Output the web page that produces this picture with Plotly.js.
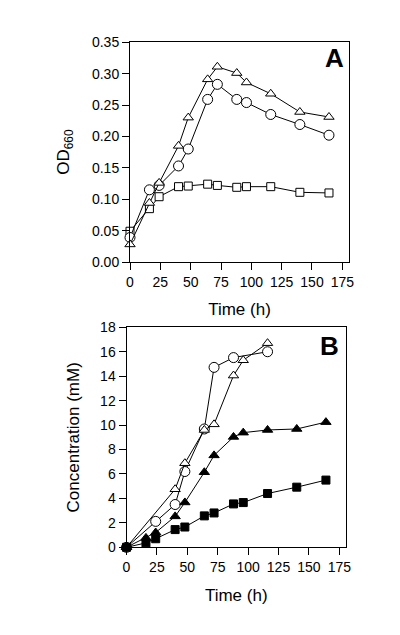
<!DOCTYPE html>
<html>
<head>
<meta charset="utf-8">
<script src="https://cdn.plot.ly/plotly-3.0.1.min.js"></script>
<style>
  html, body { margin: 0; padding: 0; background: #fff; }
  #chart { width: 400px; height: 635px; }
</style>
</head>
<body>
<div id="chart"></div>
<script>
// ---- Panel A: OD660 vs time ----
const timeA = [0, 16, 24, 40, 48, 64, 72, 88, 96, 116, 140, 164];
const odCircle   = [0.039, 0.115, 0.122, 0.153, 0.180, 0.259, 0.283, 0.259, 0.254, 0.235, 0.219, 0.202];
const odTriangle = [0.028, 0.094, 0.126, 0.185, 0.230, 0.291, 0.311, 0.301, 0.286, 0.268, 0.239, 0.231];
const odSquare   = [0.049, 0.085, 0.104, 0.120, 0.121, 0.124, 0.122, 0.119, 0.120, 0.120, 0.111, 0.110];

// ---- Panel B: concentration vs time ----
const timeCircleB = [0, 24, 40, 48, 64, 72, 88, 116];
const concCircle  = [0, 2.12, 3.5, 6.2, 9.68, 14.72, 15.52, 16.0];
const timeOpenTriB = [0, 40, 48, 64, 72, 88, 96, 116];
const concOpenTri  = [0, 4.75, 6.88, 9.6, 10.06, 14.05, 15.3, 16.7];
const timeB = [0, 16, 24, 40, 48, 64, 72, 88, 96, 116, 140, 164];
const concFilledTri = [0, 0.77, 1.21, 2.53, 3.67, 6.14, 7.52, 9.03, 9.38, 9.6, 9.68, 10.24];
const concFilledSq  = [0, 0.36, 0.7, 1.45, 1.66, 2.57, 2.81, 3.55, 3.66, 4.4, 4.92, 5.5];

const xTicks = [0, 25, 50, 75, 100, 125, 150, 175];

const FONT = 'Liberation Sans, Arial, Helvetica, sans-serif';
const line = {color: '#000', width: 1};

function tr(x, y, symbol, fill, size, xa, ya) {
  return {
    x: x, y: y, xaxis: xa, yaxis: ya, type: 'scatter', mode: 'lines+markers',
    line: line, cliponaxis: false, showlegend: false,
    marker: {symbol: symbol, size: size, color: fill, line: {color: '#000', width: 1}}
  };
}

const data = [
  tr(timeA, odSquare, 'square', '#fff', 8, 'x', 'y'),
  tr(timeA, odCircle, 'circle', '#fff', 10, 'x', 'y'),
  tr(timeA, odTriangle, 'triangle-up', '#fff', 9, 'x', 'y'),
  tr(timeCircleB, concCircle, 'circle', '#fff', 10, 'x2', 'y2'),
  tr(timeOpenTriB, concOpenTri, 'triangle-up', '#fff', 9, 'x2', 'y2'),
  tr(timeB, concFilledSq, 'square', '#000', 8, 'x2', 'y2'),
  tr(timeB, concFilledTri, 'triangle-up', '#000', 9, 'x2', 'y2')
];

const axCommon = {
  showline: true, linecolor: '#000', linewidth: 1, mirror: true,
  ticks: 'outside', ticklen: 7, tickwidth: 1, tickcolor: '#000',
  showgrid: false, zeroline: false, fixedrange: true,
  tickfont: {family: FONT, size: 14, color: '#000'}
};
const titleFont = {family: FONT, size: 17, color: '#000'};

const layout = {
  width: 400, height: 635,
  margin: {l: 0, r: 0, t: 0, b: 0},
  paper_bgcolor: '#fff', plot_bgcolor: '#fff',
  font: {family: FONT, color: '#000'},
  xaxis: Object.assign({}, axCommon, {
    domain: [0.325, 0.8725], range: [0, 180.5], anchor: 'y',
    tickvals: xTicks,
    title: {text: 'Time (h)', font: titleFont, standoff: 14}
  }),
  yaxis: Object.assign({}, axCommon, {
    domain: [0.5874, 0.9334], range: [0, 0.35], anchor: 'x',
    dtick: 0.05, tickformat: '.2f',
    title: {text: 'OD<sub>660</sub>', font: titleFont, standoff: 17}
  }),
  xaxis2: Object.assign({}, axCommon, {
    domain: [0.31625, 0.865], range: [0, 180.5], anchor: 'y2',
    tickvals: xTicks,
    title: {text: 'Time (h)', font: titleFont, standoff: 14}
  }),
  yaxis2: Object.assign({}, axCommon, {
    domain: [0.1381, 0.4846], range: [0, 18], anchor: 'x2',
    dtick: 2,
    title: {text: 'Concentration (mM)', font: titleFont, standoff: 16}
  }),
  annotations: [
    {text: '<b>A</b>', xref: 'x domain', yref: 'y domain', x: 0.936, y: 0.93,
     xanchor: 'center', yanchor: 'middle', showarrow: false,
     font: {family: FONT, size: 26, color: '#000'}},
    {text: '<b>B</b>', xref: 'x2 domain', yref: 'y2 domain', x: 0.927, y: 0.915,
     xanchor: 'center', yanchor: 'middle', showarrow: false,
     font: {family: FONT, size: 26, color: '#000'}}
  ]
};

Plotly.newPlot('chart', data, layout, {staticPlot: true, displayModeBar: false});
</script>
</body>
</html>
